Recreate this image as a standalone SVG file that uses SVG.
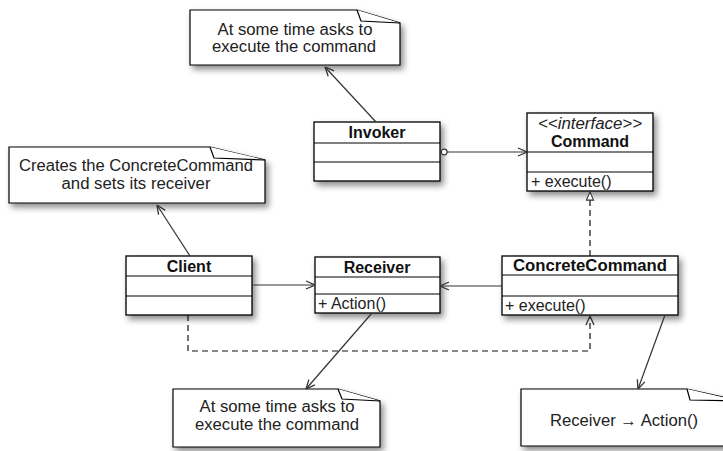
<svg xmlns="http://www.w3.org/2000/svg" width="723" height="451" viewBox="0 0 723 451">
<style>
.box{fill:#fff;stroke:#000;stroke-width:1.3}
.sep{stroke:#000;stroke-width:1}
.note{fill:#fff;stroke:#000;stroke-width:1.2}
.t{font-family:"Liberation Sans",Arial,sans-serif;font-size:16px;fill:#222}
.b{font-family:"Liberation Sans",Arial,sans-serif;font-size:16px;font-weight:bold;fill:#111;text-anchor:middle}
.c{text-anchor:middle}
.i{font-style:italic}
.ln{fill:none;stroke:#333;stroke-width:1.2}
.ds{fill:none;stroke:#111;stroke-width:1.2;stroke-dasharray:6,4}
</style>
<defs>
<filter id="sh" x="-10%" y="-10%" width="130%" height="140%">
<feDropShadow dx="3" dy="4" stdDeviation="3" flood-color="#000" flood-opacity="0.45"/>
</filter>
<marker id="open" viewBox="0 0 10 10" refX="10" refY="5" markerWidth="10" markerHeight="10" markerUnits="userSpaceOnUse" orient="auto">
<path d="M1,1 L10,5 L1,9" fill="none" stroke="#333" stroke-width="1.3"/>
</marker>
<marker id="tri" viewBox="0 0 10 10" refX="10" refY="5" markerWidth="9" markerHeight="9" markerUnits="userSpaceOnUse" orient="auto">
<path d="M1,1 L10,5 L1,9 Z" fill="#fff" stroke="#333" stroke-width="1.2"/>
</marker>
<marker id="circ" viewBox="0 0 10 10" refX="1" refY="5" markerWidth="8" markerHeight="8" markerUnits="userSpaceOnUse" orient="auto">
<circle cx="5" cy="5" r="3.6" fill="#fff" stroke="#333" stroke-width="1.4"/>
</marker>
</defs>
<rect width="723" height="451" fill="#fff"/>

<g id="note-invoker">
<path class="note" filter="url(#sh)" d="M190,10 H357 L400,23 V65 H190 Z"/>
<path class="note" d="M357,10 L361,21 L400,23"/>
<text class="t c" x="295" y="35" textLength="155" lengthAdjust="spacingAndGlyphs">At some time asks to</text>
<text class="t c" x="294" y="52" textLength="164" lengthAdjust="spacingAndGlyphs">execute the command</text>
</g>

<g id="note-client">
<path class="note" filter="url(#sh)" d="M9,147 H210 L265,160 V203 H9 Z"/>
<path class="note" d="M210,147 L214,158 L265,160"/>
<text class="t c" x="136" y="171" textLength="234" lengthAdjust="spacingAndGlyphs">Creates the ConcreteCommand</text>
<text class="t c" x="136" y="189" textLength="149" lengthAdjust="spacingAndGlyphs">and sets its receiver</text>
</g>

<g id="note-receiver">
<path class="note" filter="url(#sh)" d="M173,389 H338 L380,401 V447 H173 Z"/>
<path class="note" d="M338,389 L342,399 L380,401"/>
<text class="t c" x="277" y="412" textLength="155" lengthAdjust="spacingAndGlyphs">At some time asks to</text>
<text class="t c" x="277" y="430" textLength="164" lengthAdjust="spacingAndGlyphs">execute the command</text>
</g>

<g id="note-concrete">
<path class="note" filter="url(#sh)" d="M521,389 H687 L740,401 V446 H521 Z"/>
<path class="note" d="M687,389 L690,400 L740,401"/>
<text class="t c" x="624" y="426" textLength="148" lengthAdjust="spacingAndGlyphs">Receiver → Action()</text>
</g>

<g id="invoker">
<rect class="box" filter="url(#sh)" x="314" y="122" width="126" height="59"/>
<line class="sep" x1="314" y1="143" x2="440" y2="143"/>
<line class="sep" x1="314" y1="162" x2="440" y2="162"/>
<text class="b" x="377" y="138">Invoker</text>
</g>

<g id="command">
<rect class="box" filter="url(#sh)" x="527" y="113" width="126" height="78"/>
<line class="sep" x1="527" y1="152" x2="653" y2="152"/>
<line class="sep" x1="527" y1="172" x2="653" y2="172"/>
<text class="t c i" x="590" y="129" font-size="14" textLength="104" lengthAdjust="spacingAndGlyphs">&lt;&lt;interface&gt;&gt;</text>
<text class="b" x="590" y="147">Command</text>
<text class="t" x="531" y="187">+ execute()</text>
</g>

<g id="client">
<rect class="box" filter="url(#sh)" x="126" y="256" width="126" height="59"/>
<line class="sep" x1="126" y1="276" x2="252" y2="276"/>
<line class="sep" x1="126" y1="296" x2="252" y2="296"/>
<text class="b" x="189" y="272">Client</text>
</g>

<g id="receiver">
<rect class="box" filter="url(#sh)" x="315" y="257" width="125" height="56"/>
<line class="sep" x1="315" y1="277" x2="440" y2="277"/>
<line class="sep" x1="315" y1="294" x2="440" y2="294"/>
<text class="b" x="377" y="273">Receiver</text>
<text class="t" x="318" y="309">+ Action()</text>
</g>

<g id="concretecommand">
<rect class="box" filter="url(#sh)" x="502" y="256" width="176" height="59"/>
<line class="sep" x1="502" y1="275" x2="678" y2="275"/>
<line class="sep" x1="502" y1="296" x2="678" y2="296"/>
<text class="b" x="590" y="271" textLength="154" lengthAdjust="spacingAndGlyphs">ConcreteCommand</text>
<text class="t" x="505" y="311">+ execute()</text>
</g>

<g id="connectors">
<line class="ln" x1="376" y1="122" x2="325" y2="67" marker-end="url(#open)"/>
<line class="ln" x1="441" y1="152" x2="527" y2="152" marker-start="url(#circ)" marker-end="url(#open)"/>
<line class="ln" x1="190" y1="256" x2="157" y2="205" marker-end="url(#open)"/>
<line class="ln" x1="252" y1="285" x2="315" y2="285" marker-end="url(#open)"/>
<line class="ln" x1="502" y1="286" x2="440" y2="286" marker-end="url(#open)"/>
<line class="ds" x1="590" y1="256" x2="590" y2="192" marker-end="url(#tri)"/>
<polyline class="ds" points="188,315 188,351 590,351 590,316" marker-end="url(#open)"/>
<line class="ln" x1="372" y1="313" x2="306" y2="389" marker-end="url(#open)"/>
<line class="ln" x1="665" y1="315" x2="638" y2="389" marker-end="url(#open)"/>
</g>
</svg>
